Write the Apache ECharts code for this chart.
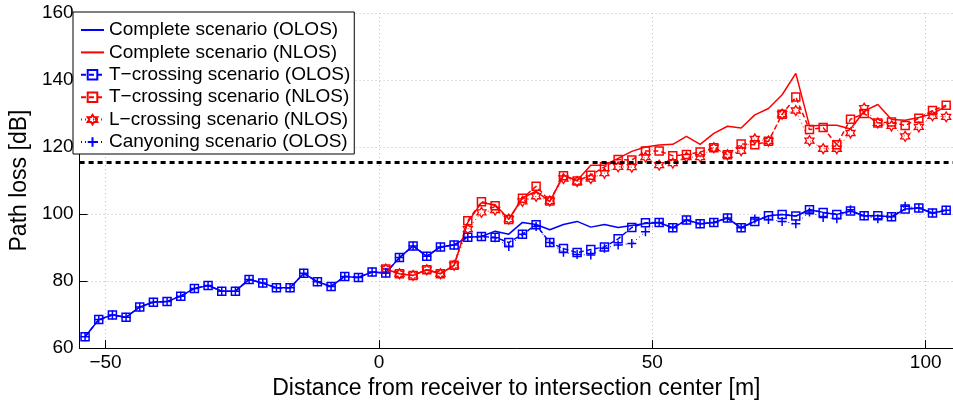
<!DOCTYPE html>
<html><head><meta charset="utf-8">
<script src="https://cdn.jsdelivr.net/npm/echarts@6/dist/echarts.min.js"></script>
<style>html,body{margin:0;padding:0;background:#fff}#c{width:953px;height:405px}</style>
</head><body><div id="c"></div>
<script>
// Distance from receiver to intersection center [m]
const distance = [-53.75,-51.25,-48.75,-46.25,-43.75,-41.25,-38.75,-36.25,-33.75,-31.25,-28.75,-26.25,-23.75,-21.25,-18.75,-16.25,-13.75,-11.25,-8.75,-6.25,-3.75,-1.25,1.25,3.75,6.25,8.75,11.25,13.75,16.25,18.75,21.25,23.75,26.25,28.75,31.25,33.75,36.25,38.75,41.25,43.75,46.25,48.75,51.25,53.75,56.25,58.75,61.25,63.75,66.25,68.75,71.25,73.75,76.25,78.75,81.25,83.75,86.25,88.75,91.25,93.75,96.25,98.75,101.25,103.75];
const nlosDistance = [1.25,3.75,6.25,8.75,11.25,13.75,16.25,18.75,21.25,23.75,26.25,28.75,31.25,33.75,36.25,38.75,41.25,43.75,46.25,48.75,51.25,53.75,56.25,58.75,61.25,63.75,66.25,68.75,71.25,73.75,76.25,78.75,81.25,83.75,86.25,88.75,91.25,93.75,96.25,98.75,101.25,103.75];

const completeOlos = [63.4,68.5,69.9,69.2,72.3,73.7,73.9,75.5,77.8,78.7,77.0,77.0,80.5,79.4,78.0,78.0,82.3,79.8,78.4,81.4,81.1,82.7,82.4,87.0,90.5,87.4,90.2,90.8,93.1,93.3,94.9,94.0,97.5,96.9,95.3,96.9,97.8,96.1,96.9,96.0,96.6,97.2,97.4,95.9,98.2,97.1,97.5,98.8,95.9,97.8,99.5,99.9,99.4,101.3,100.5,99.9,100.9,99.5,99.5,99.2,101.5,101.8,100.3,101.1];
const tCrossingOlos = [63.4,68.5,69.9,69.2,72.3,73.7,73.9,75.5,77.8,78.7,77.0,77.0,80.5,79.4,78.0,78.0,82.3,79.8,78.4,81.4,81.1,82.7,82.4,87.0,90.5,87.4,90.2,90.8,93.1,93.3,93.1,91.5,94.0,96.8,91.5,89.7,88.5,89.4,90.2,92.6,96.0,97.4,97.5,95.9,98.2,97.1,97.5,98.8,95.9,97.8,99.5,99.9,99.4,101.3,100.5,99.9,100.9,99.5,99.5,99.2,101.5,101.8,100.3,101.1];
const canyoningOlos = [63.4,68.5,69.9,69.2,72.3,73.7,73.9,75.5,77.8,78.7,77.0,77.0,80.5,79.4,78.0,78.0,82.3,79.8,78.4,81.4,81.1,82.7,82.4,87.0,90.5,87.4,90.2,90.8,93.1,93.3,92.9,90.3,94.0,96.3,91.5,88.6,87.9,87.8,89.8,90.8,91.2,94.7,97.5,95.9,98.2,97.1,97.5,98.8,95.9,98.5,98.4,97.8,97.1,100.6,99.0,98.6,101.3,99.5,98.6,99.2,102.3,101.8,100.3,101.1];

const completeNlos = [83.6,82.2,81.7,83.4,82.2,84.7,97.5,103.4,102.8,98.5,104.8,106.8,103.7,111.6,110.0,114.6,114.6,116.6,118.7,120.0,120.6,120.8,123.2,120.8,124.1,126.2,125.7,129.6,131.5,135.6,142.0,126.3,126.5,126.5,125.4,130.7,132.7,128.2,128.0,128.8,129.9,132.2];
const tCrossingNlos = [83.6,82.2,81.7,83.4,82.2,84.7,98.0,103.7,102.5,98.4,104.7,108.3,103.9,111.4,109.9,111.6,114.1,116.3,116.1,118.8,118.8,117.4,117.8,118.5,119.8,117.7,120.9,120.7,121.7,129.8,134.9,125.2,125.8,120.7,128.3,130.0,127.2,127.5,126.4,128.6,130.9,132.5];
const lCrossingNlos = [83.6,82.2,81.7,83.4,82.2,84.7,95.5,100.5,101.2,98.5,103.8,105.3,103.9,110.6,109.7,110.6,112.2,114.1,114.0,117.0,114.6,115.2,117.0,117.0,119.8,117.7,118.9,122.4,121.8,129.8,130.9,121.9,119.5,119.5,124.2,131.6,127.2,126.3,123.2,126.0,129.3,129.0];

const thresholdLoss = 115.4;

const seriesNames = ['Complete scenario (OLOS)','Complete scenario (NLOS)','T\u2212crossing scenario (OLOS)','T\u2212crossing scenario (NLOS)','L\u2212crossing scenario (NLOS)','Canyoning scenario (OLOS)'];

function pairs(xs, ys){ return xs.map((x,i)=>[x, ys[i]]); }

const BLUE = '#0000ff', RED = '#ff0000';
const FONT = '"Liberation Sans", Arial, Helvetica, sans-serif';
const hexagram = 'path://M0,-100 L28.87,-50 L86.6,-50 L57.7,0 L86.6,50 L28.87,50 L0,100 L-28.87,50 L-86.6,50 L-57.7,0 L-86.6,-50 L-28.87,-50 Z';
const plus = 'path://M50,0 L50,100 M0,50 L100,50';

const chart = echarts.init(document.getElementById('c'), null, {renderer:'canvas'});
chart.setOption({
  animation:false,
  backgroundColor:'#fff',
  textStyle:{fontFamily:FONT},
  grid:{left:72, right:-4, top:13, bottom:50, containLabel:false},
  legend:{
    data:[
      {name:seriesNames[0], itemStyle:{opacity:0}},
      {name:seriesNames[1], itemStyle:{opacity:0}},
      seriesNames[2], seriesNames[3], seriesNames[4], seriesNames[5]
    ],
    orient:'vertical', left:73, top:12,
    backgroundColor:'#fff', borderColor:'#000', borderWidth:1,
    padding:[8,4,2,7], itemWidth:23, itemHeight:12, itemGap:2.4, itemTextGap:5,
    selectedMode:false,
    textStyle:{fontSize:19, lineHeight:20, color:'#000', fontFamily:FONT}
  },
  xAxis:{
    type:'value', min:-54.75, max:105, splitNumber:3, minInterval:50, maxInterval:50,
    name:'Distance from receiver to intersection center [m]', nameLocation:'middle', nameGap:22,
    nameTextStyle:{fontSize:23, color:'#000', fontFamily:FONT},
    axisLine:{onZero:false, lineStyle:{color:'#000', width:1}},
    axisTick:{inside:true, length:8, lineStyle:{color:'#000'}},
    axisLabel:{fontSize:19, color:'#000', margin:5, showMinLabel:false, showMaxLabel:false,
      formatter:v=>String(v).replace('-', '\u2212')},
    splitLine:{show:true, lineStyle:{color:'#bdbdbd', width:1, type:[1,3]}}
  },
  yAxis:{
    type:'value', min:60, max:160, interval:20,
    name:'Path loss [dB]', nameLocation:'middle', nameGap:43, nameRotate:90,
    nameTextStyle:{fontSize:23, color:'#000', fontFamily:FONT},
    axisLine:{show:true, onZero:false, lineStyle:{color:'#000', width:1}},
    axisTick:{show:true, inside:true, length:8, lineStyle:{color:'#000'}},
    axisLabel:{fontSize:19, color:'#000', margin:6},
    splitLine:{show:true, lineStyle:{color:'#bdbdbd', width:1, type:[1,3]}}
  },
  series:[
    {type:'line', name:'threshold', data:[], silent:true,
     markLine:{silent:true, symbol:['none','none'], label:{show:false},
       lineStyle:{color:'#000', width:3, type:[5,4]}, data:[{yAxis:thresholdLoss}]}},
    {type:'line', name:seriesNames[0], data:pairs(distance, completeOlos), symbol:'none',
     lineStyle:{color:BLUE, width:1.5}, itemStyle:{color:BLUE}},
    {type:'line', name:seriesNames[1], data:pairs(nlosDistance, completeNlos), symbol:'none',
     lineStyle:{color:RED, width:1.5}, itemStyle:{color:RED}},
    {type:'line', name:seriesNames[2], data:pairs(distance, tCrossingOlos), symbol:'rect', symbolSize:8, showSymbol:true,
     lineStyle:{color:BLUE, width:1.5, type:[5,3]}, itemStyle:{color:'rgba(0,0,0,0)', borderColor:BLUE, borderWidth:1.5}},
    {type:'line', name:seriesNames[3], data:pairs(nlosDistance, tCrossingNlos), symbol:'rect', symbolSize:8, showSymbol:true,
     lineStyle:{color:RED, width:1.5, type:[5,3]}, itemStyle:{color:'rgba(0,0,0,0)', borderColor:RED, borderWidth:1.5}},
    {type:'line', name:seriesNames[4], data:pairs(nlosDistance, lCrossingNlos), symbol:hexagram, symbolSize:[9,10], showSymbol:true,
     lineStyle:{color:RED, width:1, type:[1,3]}, itemStyle:{color:'rgba(0,0,0,0)', borderColor:RED, borderWidth:1.3}},
    {type:'line', name:seriesNames[5], data:pairs(distance, canyoningOlos), symbol:plus, symbolSize:9, showSymbol:true,
     lineStyle:{color:BLUE, width:1, type:[1,3]}, itemStyle:{color:'rgba(0,0,0,0)', borderColor:BLUE, borderWidth:1.5}}
  ]
});
</script></body></html>
